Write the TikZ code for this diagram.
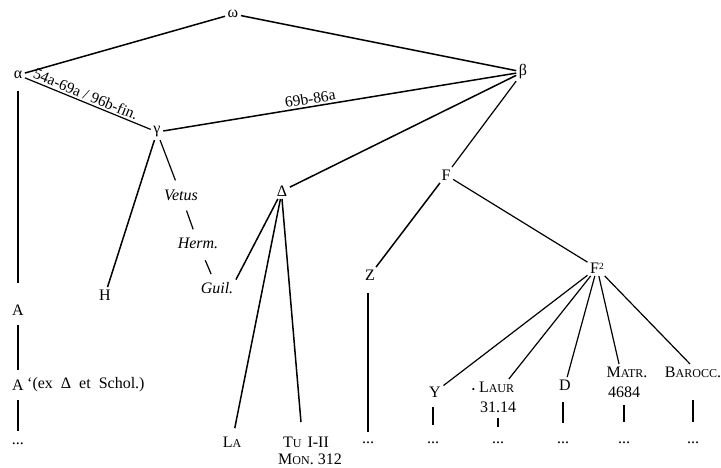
\documentclass[tikz,border=0pt]{standalone}
\usepackage{fontspec}
\setmainfont{Liberation Serif}
\newcommand\fsc[2]{#1{\fontsize{12}{13}\selectfont #2}}
\begin{document}
\begin{tikzpicture}[x=1pt,y=-1pt,
  lbl/.style={inner sep=2.5pt, font=\fontsize{16}{18}\selectfont},
  it/.style={lbl, font=\fontsize{16}{18}\selectfont\itshape},
  dts/.style={inner sep=0pt, anchor=base, font=\fontsize{16}{18}\selectfont},
  ed/.style={line width=1.5pt},
  thin/.style={line width=1.2pt},
  lab/.style={font=\fontsize{15.5}{17}\selectfont, inner sep=2pt}]
\useasboundingbox[fill=white] (0,0) rectangle (721,467);
% nodes
\node[lbl] (om) at (233,14) {ω};
\node[lbl] (al) at (18,75) {α};
\node[lbl] (be) at (523,72) {β};
\node[lbl] (ga) at (157,132) {γ};
\node[lbl] (H) at (105,295) {H};
\node[it] (ve) at (181,195) {Vetus};
\node[it] (he) at (198,243) {Herm.};
\node[it] (gu) at (217,288) {Guil.};
\node[lbl] (de) at (282,191) {Δ};
\node[lbl] (la) at (232,442) {\fsc{L}{A}};
\node[lbl] (tu) at (306,442) {\fsc{T}{U}\hspace{6pt}I-II};
\node[lbl] (mon) at (310,459) {\fsc{M}{ON}.\hspace{4pt}312};
\node[lbl] (F) at (446,175) {F};
\node[lbl] (Z) at (370,275) {Z};
\node[lbl] (F2) at (597,268) {F\raisebox{0.55ex}{\fontsize{9.5}{9.5}\selectfont 2}};
\node[lbl] (A) at (18,310) {A};
\node[lbl] (A2) at (18,385) {A};
\node[lbl, anchor=west, inner sep=0pt] (A2t) at (27,385) {‘(ex\hspace{8pt}Δ\hspace{8pt}et\hspace{8pt}Schol.)};
\node[lbl] (Y) at (435,392) {Y};
\node[lbl] (lau) at (493,387) {{\fontsize{9}{9}\selectfont •}\hspace{4pt}\fsc{L}{AUR}};
\node[lbl] (lau2) at (498,407) {31.14};
\node[lbl] (D) at (565,385) {D};
\node[lbl] (ma) at (627,372) {\fsc{M}{ATR}.};
\node[lbl] (ma2) at (624,392) {4684};
\node[lbl] (ba) at (693,372) {\fsc{B}{AROCC}.};
% dots
\node[dts] (dA) at (18,444) {...};
\node[dts] (dZ) at (368,443) {...};
\node[dts] (dY) at (433,443) {...};
\node[dts] (dL) at (498,443) {...};
\node[dts] (dD) at (563,443) {...};
\node[dts] (dM) at (624,443) {...};
\node[dts] (dB) at (693,443) {...};
% connectors
\draw[ed] (om) -- (al);
\draw[ed] (om) -- (be);
\draw[thin] (al) -- (ga) node[lab, pos=0.46, above, sloped] {54a-69a / 96b-fin.};
\draw[ed] (ga) -- (be) node[lab, pos=0.42, above, sloped] {69b-86a};
\draw[ed] (be) -- (de);
\draw[thin] (be) -- (F);
\draw[ed] (ga) -- (H);
\draw[thin, shorten >=7pt] (ga) -- (ve);
\draw[thin, shorten <=8pt, shorten >=6pt] (ve) -- (he);
\draw[thin, shorten <=10pt, shorten >=6pt] (he) -- (gu);
\draw[ed] (de) -- (gu.north east);
\draw[ed, shorten >=6pt] (de) -- (la);
\draw[ed, shorten >=12pt] (de.south) -- ([xshift=-4pt]tu.north);
\draw[ed] (F) -- (Z);
\draw[thin] (F) -- (F2);
\draw[thin] (F2) -- (Y);
\draw[thin] (F2) -- ([xshift=-8pt]lau.north east);
\draw[thin] (F2) -- (D);
\draw[thin] (F2) -- ([xshift=-8pt]ma.north);
\draw[thin] (F2) -- ([xshift=-3pt]ba.north);
% verticals
\draw[ed, shorten <=9pt, shorten >=19pt] (al) -- (A);
\draw[ed, shorten <=7pt, shorten >=7pt] (A) -- (A2);
\draw[ed, shorten <=7pt, shorten >=11pt] (A2) -- (dA);
\draw[ed, shorten <=10pt, shorten >=9pt] (Z.south -| dZ) -- (dZ);
\draw[ed, shorten <=7pt, shorten >=16pt] (Y.south -| dY) -- (dY);
\draw[ed, shorten <=3pt, shorten >=14pt] (lau2.south -| dL) -- (dL);
\draw[ed, shorten <=9pt, shorten >=18pt] (D.south -| dD) -- (dD);
\draw[ed, shorten <=5pt, shorten >=19pt] (ma2.south -| dM) -- (dM);
\draw[ed, shorten <=20pt, shorten >=19pt] (ba.south -| dB) -- (dB);
\end{tikzpicture}
\end{document}
